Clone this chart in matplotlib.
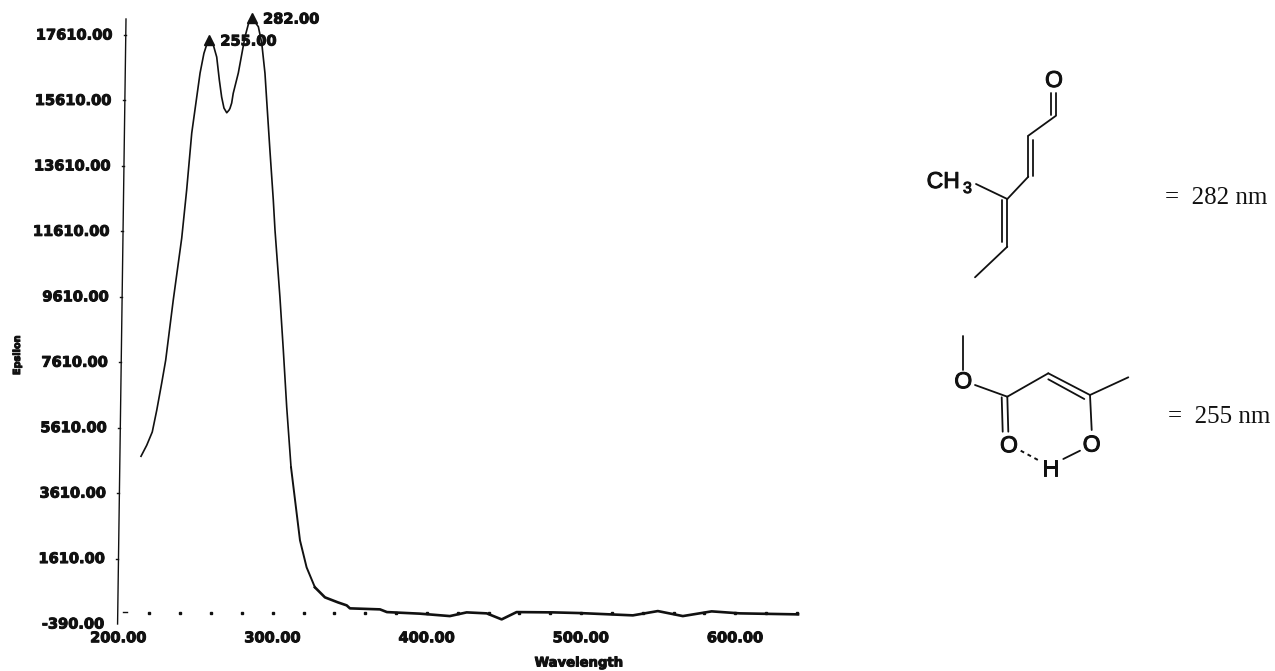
import matplotlib
matplotlib.use("Agg")
import matplotlib.pyplot as plt
import matplotlib.patheffects as pe

# spectrum
wavelength = [214.6, 218.3, 221.9, 224.8, 228.0, 230.6, 235.5, 241.0, 244.2, 247.5, 252.9, 255.4, 257.6,
              258.9, 261.5, 263.7, 265.4, 266.9, 268.4, 270.2, 271.7, 272.3, 273.4, 274.4, 277.7, 282.0,
              284.6, 286.6, 288.5, 290.7, 292.9, 295.0, 296.1, 298.2, 300.4, 301.5, 304.7, 306.9, 309.1,
              311.9, 317.7, 322.0, 327.4, 333.9, 342.3, 348.0, 350.1, 369.6, 374.1, 395.5, 414.9, 425.8,
              438.8, 448.5, 458.2, 481.8, 499.3, 533.6, 549.8, 566.0, 584.7, 603.0, 640.7]
epsilon = [4736, 5072, 5479, 6142, 6968, 7671, 9506, 11402, 12870, 14613, 16448, 17050, 17375,
           17457, 17304, 16937, 16234, 15714, 15378, 15234, 15316, 15368, 15531, 15827, 16448, 17549,
           18008, 18130, 18008, 17864, 17365, 16439, 15622, 14093, 12564, 11647, 9598, 7977, 6234,
           4399, 2167, 1341, 730, 424, 271, 179, 88, 57, -26, -74, -148, -35,
           -65, -249, -26, -35, -56, -126, 5, -148, -4, -65, -96]

y_ticks = [17610, 15610, 13610, 11610, 9610, 7610, 5610, 3610, 1610, -390]
x_ticks = [200, 300, 400, 500, 600]
x_dots = list(range(220, 641, 20))
peak_x = [258.9, 286.6]
peak_y = [17457, 18130]
peak_labels = ["255.00", "282.00"]

INK = "#111111"
DPI = 100
W, H = 1275, 671
SCAN = ["DejaVu Sans"]
BLOB = [pe.withStroke(linewidth=0.7, foreground=INK)]  # photocopied text runs thick

fig = plt.figure(figsize=(W / DPI, H / DPI), dpi=DPI)
ax = fig.add_axes([118.5 / W, (H - 624) / H, (800 - 118.5) / W, (624 - 15) / H])
ax.set_xlim(200, 642)
ax.set_ylim(-390, 18222)
for side in ax.spines.values():
    side.set_visible(False)
ax.patch.set_visible(False)

# the trace gets heavier towards the baseline
mid = wavelength.index(311.9)
low = wavelength.index(327.4)
ax.plot(wavelength[:mid + 1], epsilon[:mid + 1], color=INK, lw=1.2)
ax.plot(wavelength[mid:low + 1], epsilon[mid:low + 1], color=INK, lw=1.4)
ax.plot(wavelength[low:], epsilon[low:], color=INK, lw=1.9)


def axis_x(val):
    # the scanned axis leans to the right going up
    return 199.4 + (val + 390) / 18612 * 5.5


ax.plot([axis_x(-390), axis_x(18100)], [-390, 18100], color=INK, lw=1.0, clip_on=False)
ax.plot(x_dots, [-52] * len(x_dots), ls="none", marker="s", ms=1.8, color=INK)
ax.plot([203, 205.5], [-30, -30], color=INK, lw=1.0)

ax.set_xticks(x_ticks, [f"{v:.2f}" for v in x_ticks])
ax.set_yticks([])
ax.tick_params(axis="x", length=0, pad=4.5, labelsize=10.5, labelcolor=INK)
for lab in ax.get_xticklabels():
    lab.set_fontweight("bold")
    lab.set_fontfamily(SCAN)
    lab.set_path_effects(BLOB)

for val in y_ticks:
    if val != y_ticks[-1]:
        ax.plot([axis_x(val) - 1.4, axis_x(val)], [val, val], color=INK, lw=1.0, clip_on=False)
    off_px = -5.5 - (17610 - val) / 18000 * 8.5
    ax.annotate(f"{val:.2f}", xy=(200, val), xytext=(off_px, 0), textcoords="offset pixels",
                ha="right", va="center", fontsize=10.5, fontweight="bold", color=INK,
                family=SCAN, annotation_clip=False, path_effects=BLOB)

ax.plot(peak_x, peak_y, ls="none", marker="^", ms=7, color=INK, clip_on=False)
for px, py, lab in zip(peak_x, peak_y, peak_labels):
    ax.annotate(lab, xy=(px, py), xytext=(11, -1), textcoords="offset pixels",
                ha="left", va="center", fontsize=10.5, fontweight="bold", color=INK,
                family=SCAN, annotation_clip=False, path_effects=BLOB)

fig.text(579 / W, 1 - 663 / H, "Wavelength", ha="center", va="center", fontsize=9.5,
         fontweight="bold", color=INK, path_effects=BLOB)
fig.text(17 / W, 1 - 355 / H, "Epsilon", ha="center", va="center", rotation=90, fontsize=7,
         fontweight="bold", color=INK, path_effects=BLOB)

# chemical structures on a pixel canvas
sk = fig.add_axes([0, 0, 1, 1])
sk.set_xlim(0, W)
sk.set_ylim(H, 0)
sk.axis("off")
sk.patch.set_visible(False)

bonds = [
    ((1050.7, 93), (1050.7, 115)), ((1056, 93), (1056, 115)),
    ((1056, 115.7), (1028.3, 135.7)),
    ((1028.3, 135.7), (1028.3, 176.7)), ((1032.7, 140), (1032.7, 176)),
    ((1028.3, 176.7), (1007.3, 199)),
    ((1007.3, 199), (976, 184)),
    ((1001.7, 200), (1001.7, 241.7)), ((1007.3, 199), (1007.3, 246.7)),
    ((1007.3, 246.7), (975, 277.3)),
    ((963.3, 335.7), (963.3, 370)),
    ((975, 385), (1007.3, 396.7)),
    ((1007.3, 396.7), (1048.3, 373.3)),
    ((1048.3, 373.3), (1090, 395)), ((1048.3, 379.3), (1084.3, 399)),
    ((1090, 395), (1128.3, 377.3)),
    ((1090, 395), (1091.7, 430)),
    ((1001.7, 397.3), (1002.7, 431.7)), ((1007.3, 396.7), (1008.3, 431.7)),
    ((1063.3, 459), (1080, 450.7)),
]
for a, b in bonds:
    sk.plot([a[0], b[0]], [a[1], b[1]], color=INK, lw=1.3, solid_capstyle="round")
sk.plot([1020.7, 1039.3], [450.7, 460.7], color=INK, lw=1.4, ls=(0, (2, 2)))

atoms = [(1054, 80.5, "O"), (963.3, 381.7, "O"), (1009, 445.7, "O"), (1091.7, 445, "O"),
         (1050.7, 469, "H")]
for x, y, s in atoms:
    sk.text(x, y, s, ha="center", va="center", fontsize=16.5, family="Liberation Sans", color=INK,
            path_effects=BLOB)
sk.text(926.7, 188, "CH", ha="left", va="baseline", fontsize=16.5, family="Liberation Sans", color=INK,
        path_effects=BLOB)
sk.text(963, 193, "3", ha="left", va="baseline", fontsize=11.5, family="Liberation Sans", color=INK,
        path_effects=BLOB)

sk.text(1165, 198, "=  282 nm", ha="left", va="center", fontsize=18, family="Liberation Serif", color=INK)
sk.text(1168, 416.7, "=  255 nm", ha="left", va="center", fontsize=18, family="Liberation Serif", color=INK)

fig.savefig("out.png", dpi=DPI)
